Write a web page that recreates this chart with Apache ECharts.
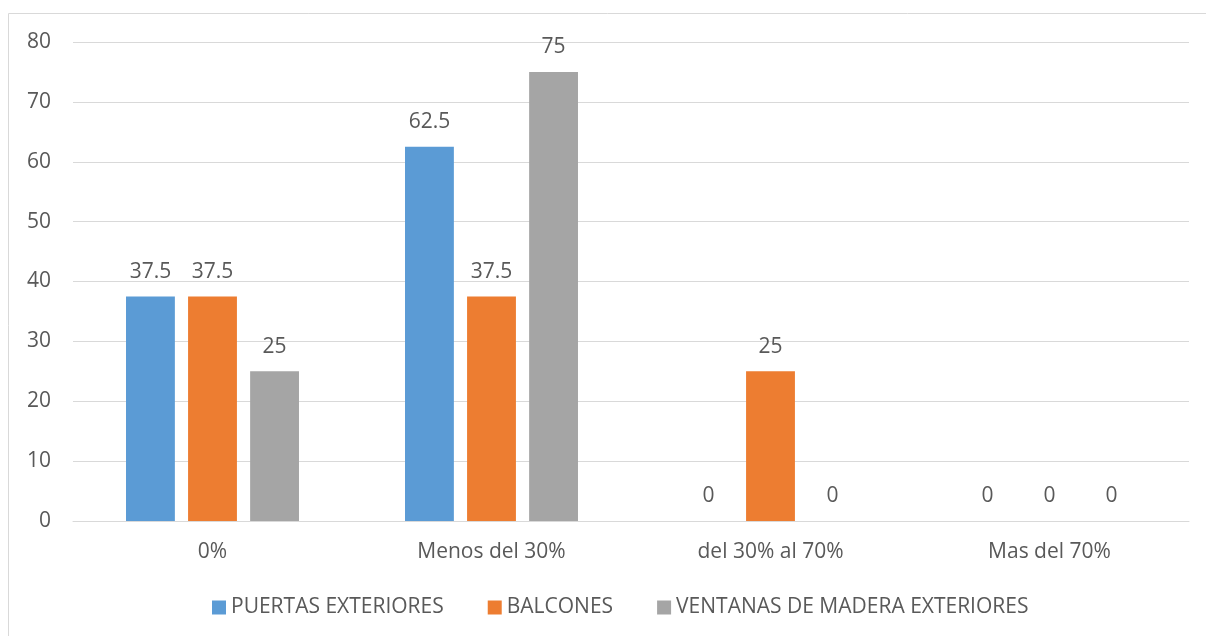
<!DOCTYPE html>
<html>
<head>
<meta charset="utf-8">
<script src="https://cdn.jsdelivr.net/npm/echarts@6/dist/echarts.min.js"></script>
<style>
html,body{margin:0;padding:0;background:#fff;}
#chart{width:1206px;height:636px;}
</style>
</head>
<body>
<div id="chart"></div>
<script>
const categories = ['0%', 'Menos del 30%', 'del 30% al 70%', 'Mas del 70%'];
const seriesNames = ['PUERTAS EXTERIORES', 'BALCONES', 'VENTANAS DE MADERA EXTERIORES'];
const puertas = [37.5, 62.5, 0, 0];
const balcones = [37.5, 37.5, 25, 0];
const ventanas = [25, 75, 0, 0];
const colors = ['#5B9BD5', '#ED7D31', '#A5A5A5'];

const FONT = 'Open Sans';
const TXT = '#595959';
const FS = 21;

const chart = echarts.init(document.getElementById('chart'), null, {renderer: 'canvas'});
const mk = (name, data, color) => ({
  name, type: 'bar', data,
  itemStyle: {color},
  barGap: '27%', barCategoryGap: '38%',
  label: {show: true, position: 'top', distance: 14, color: TXT, fontFamily: FONT, fontSize: FS}
});
chart.setOption({
  animation: false,
  textStyle: {fontFamily: FONT},
  graphic: [{
    type: 'rect', silent: true,
    shape: {x: 8.5, y: 13.5, width: 1220, height: 650},
    style: {fill: 'none', stroke: '#d9d9d9', lineWidth: 1}
  }],
  grid: {left: 73, right: 17, top: 42, bottom: 115, containLabel: false},
  legend: {
    left: 207, top: 592, itemWidth: 14, itemHeight: 14, itemGap: 44,
    icon: 'rect',
    textStyle: {color: TXT, fontFamily: FONT, fontSize: FS},
    data: seriesNames
  },
  xAxis: {
    type: 'category', data: categories,
    axisLine: {lineStyle: {color: '#d9d9d9', width: 1}},
    axisTick: {show: false},
    axisLabel: {color: TXT, fontFamily: FONT, fontSize: FS, margin: 21}
  },
  yAxis: {
    type: 'value', min: 0, max: 80, interval: 10,
    axisLine: {show: false}, axisTick: {show: false},
    splitLine: {lineStyle: {color: '#d9d9d9', width: 1}},
    axisLabel: {color: TXT, fontFamily: FONT, fontSize: FS, margin: 22}
  },
  series: [
    mk(seriesNames[0], puertas, colors[0]),
    mk(seriesNames[1], balcones, colors[1]),
    mk(seriesNames[2], ventanas, colors[2])
  ]
});
</script>
</body>
</html>
